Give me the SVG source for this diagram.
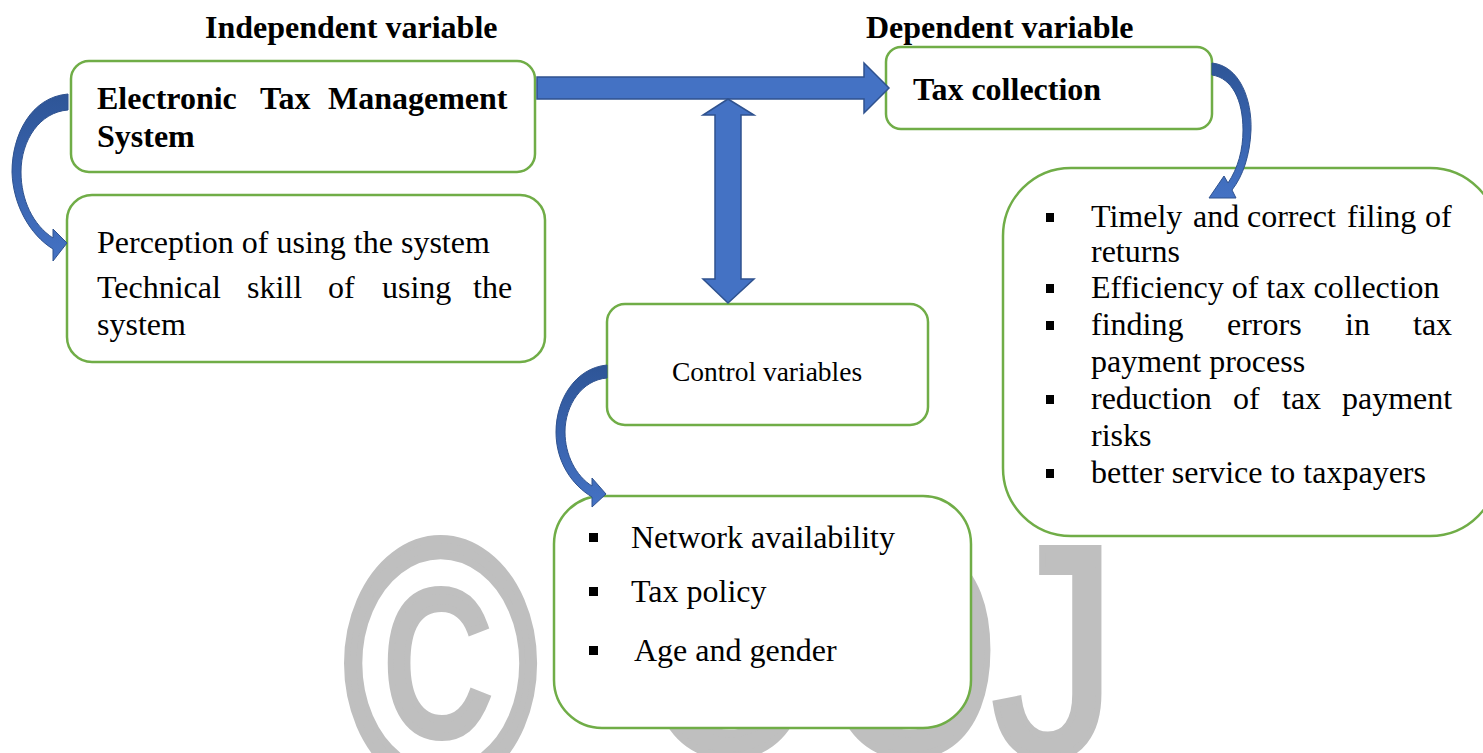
<svg xmlns="http://www.w3.org/2000/svg" width="1483" height="753" viewBox="0 0 1483 753">
<style>
.box{fill:#fff;stroke:#70AD47;stroke-width:2.5}
.t{font-family:"Liberation Serif","Times New Roman",serif;font-size:32px;fill:#000}
.b{font-weight:bold}
.wm{font-family:"Liberation Sans",Arial,sans-serif;fill:#BFBFBF;stroke:#BFBFBF;stroke-width:6}
.arr{fill:#4472C4;stroke:#2F528F;stroke-width:1.5}
.carr{fill:url(#cg);stroke:#2F528F;stroke-width:1}
.bul{fill:#000}
</style>
<defs>
<linearGradient id="cg" x1="0" y1="0" x2="0" y2="1">
<stop offset="0" stop-color="#2E5597"/>
<stop offset="1" stop-color="#4472C4"/>
</linearGradient>
</defs>
<rect width="1483" height="753" fill="#fff"/>
<g id="watermark">
<text class="wm" font-size="265" transform="translate(343,785) scale(1,1.33)">©</text>
<text class="wm" font-size="228" transform="translate(641,753) scale(1,1.3)">O</text>
<text class="wm" font-size="228" transform="translate(821,753) scale(1,1.3)">O</text>
<text class="wm" font-size="250" transform="translate(992,755) scale(1,1.2)">J</text>
</g>
<text class="t b" x="205" y="38">Independent variable</text>
<text class="t b" x="866" y="38">Dependent variable</text>
<g id="etms">
<rect class="box" x="71" y="61" width="464" height="111" rx="18"/>
<text class="t b" y="109"><tspan x="97">Electronic</tspan><tspan x="260">Tax</tspan><tspan x="328">Management</tspan></text>
<text class="t b" x="97" y="147">System</text>
</g>
<g id="perception">
<rect class="box" x="67" y="195" width="478" height="167" rx="25"/>
<text class="t" x="97" y="253">Perception of using the system</text>
<text class="t" y="298"><tspan x="97">Technical</tspan><tspan x="247">skill</tspan><tspan x="328">of</tspan><tspan x="382">using</tspan><tspan x="473">the</tspan></text>
<text class="t" x="97" y="335">system</text>
</g>
<g id="taxcollection">
<rect class="box" x="886" y="47" width="326" height="82" rx="15"/>
<text class="t b" x="913" y="100">Tax collection</text>
</g>
<g id="control">
<rect class="box" x="607" y="304" width="321" height="121" rx="18"/>
<text class="t" x="672" y="381" style="font-size:27.5px">Control variables</text>
</g>
<g id="controllist">
<rect class="box" x="554" y="496" width="417" height="232" rx="48"/>
<rect class="bul" x="589" y="533" width="9" height="9"/>
<rect class="bul" x="589" y="587" width="9" height="9"/>
<rect class="bul" x="589" y="646" width="9" height="9"/>
<text class="t" x="631" y="548">Network availability</text>
<text class="t" x="631" y="602">Tax policy</text>
<text class="t" x="634" y="661">Age and gender</text>
</g>
<g id="outcomes">
<rect class="box" x="1003" y="168" width="495" height="368" rx="68"/>
<rect class="bul" x="1046" y="213" width="8" height="9"/>
<rect class="bul" x="1046" y="284" width="8" height="9"/>
<rect class="bul" x="1046" y="321" width="8" height="9"/>
<rect class="bul" x="1046" y="395" width="8" height="9"/>
<rect class="bul" x="1046" y="469" width="8" height="9"/>
<text class="t" y="227"><tspan x="1091">Timely</tspan><tspan x="1193">and</tspan><tspan x="1247">correct</tspan><tspan x="1347">filing</tspan><tspan x="1425">of</tspan></text>
<text class="t" x="1091" y="262">returns</text>
<text class="t" x="1091" y="298">Efficiency of tax collection</text>
<text class="t" y="335"><tspan x="1091">finding</tspan><tspan x="1227">errors</tspan><tspan x="1345">in</tspan><tspan x="1413">tax</tspan></text>
<text class="t" x="1091" y="372">payment process</text>
<text class="t" y="409"><tspan x="1091">reduction</tspan><tspan x="1233">of</tspan><tspan x="1282">tax</tspan><tspan x="1342">payment</tspan></text>
<text class="t" x="1091" y="446">risks</text>
<text class="t" x="1091" y="483">better service to taxpayers</text>
</g>
<g id="connectors">
<path class="arr" d="M537 77 H864 V63 L889 88 L864 113 V99 H537 Z"/>
<path class="arr" d="M728 99 L754 115 H741 V279 H754 L728 303 L703 279 H715 V115 H703 Z"/>
<path class="carr" d="M68 94 C31 97 12 135 12 172 C13 205 30 235 53 249 L53 261 L67 243 L53 229 L53 238 C33 225 21 200 21 172 C21 140 40 112 68 110 Z"/>
<path class="carr" d="M1212 63 C1240 66 1252 100 1251 130 C1250 155 1243 176 1232 190 L1236 198 L1209 198 L1224 176 L1228 183 C1238 168 1243 150 1243 130 C1243 100 1232 78 1212 75 Z"/>
<path class="carr" d="M607 365 C575 368 556 400 556 432 C556 462 572 485 592 497 L592 507 L606 494 L592 478 L592 486 C576 476 565 455 565 432 C565 405 582 380 607 378 Z"/>
</g>
</svg>
